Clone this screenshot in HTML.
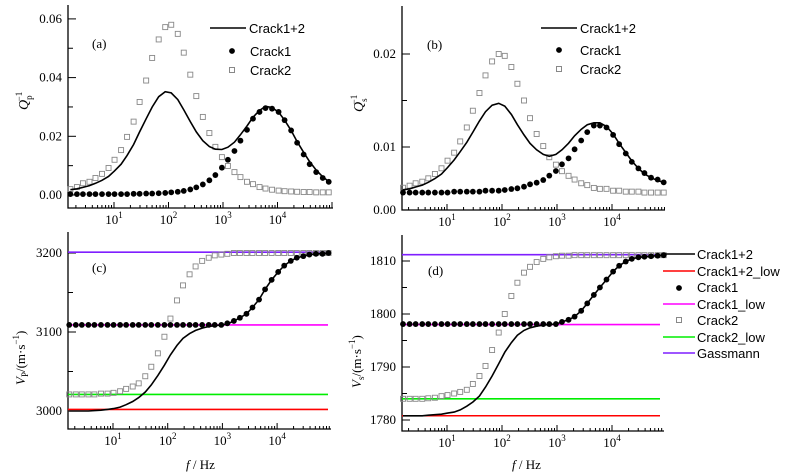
<!DOCTYPE html>
<html><head><meta charset="utf-8"><style>
html,body{margin:0;padding:0;background:#fff;}
svg{display:block;font-family:"Liberation Serif",serif;}
.sans{font-family:"Liberation Sans",sans-serif;}
</style></head><body>
<svg id="chart" width="789" height="475" viewBox="0 0 789 475"></svg>
<script>
const logF=[0.2,0.32,0.43,0.55,0.66,0.78,0.9,1.01,1.13,1.24,1.36,1.47,1.59,1.7,1.82,1.94,2.05,2.17,2.28,2.4,2.51,2.63,2.75,2.86,2.98,3.09,3.21,3.32,3.44,3.55,3.67,3.78,3.9,4.02,4.13,4.25,4.36,4.48,4.59,4.71,4.83,4.94];
const qpCrack12=[0.0018,0.0021,0.0026,0.0032,0.004,0.005,0.0063,0.0082,0.0105,0.0135,0.0172,0.0215,0.026,0.030,0.0335,0.0352,0.0348,0.0325,0.029,0.025,0.0215,0.0185,0.0165,0.0156,0.0155,0.0163,0.018,0.0205,0.0235,0.0265,0.0288,0.0302,0.0298,0.0282,0.0255,0.022,0.0182,0.0145,0.0113,0.0085,0.0062,0.0046];
const qpCrack1=[0.0003,0.0003,0.0003,0.0003,0.0003,0.0003,0.0003,0.0003,0.0003,0.0003,0.0004,0.0004,0.0005,0.0005,0.0006,0.0007,0.0009,0.0011,0.0014,0.0019,0.0026,0.0036,0.005,0.0068,0.0093,0.012,0.015,0.0185,0.0222,0.026,0.0283,0.0296,0.0294,0.0283,0.0255,0.022,0.0178,0.0138,0.0105,0.0078,0.0058,0.0045];
const qpCrack2=[0.002,0.0027,0.004,0.0045,0.0058,0.0072,0.0092,0.012,0.0153,0.0198,0.025,0.0317,0.039,0.0467,0.053,0.0572,0.058,0.0549,0.0485,0.041,0.0337,0.0266,0.0211,0.0164,0.0129,0.0099,0.0078,0.0061,0.0045,0.0037,0.0027,0.0022,0.0018,0.0015,0.0013,0.0012,0.0011,0.001,0.001,0.0009,0.0009,0.0009];
const qsCrack12=[0.0054,0.0055,0.0057,0.0059,0.0062,0.0066,0.0071,0.0078,0.0086,0.0095,0.0105,0.0116,0.0128,0.0138,0.0145,0.0147,0.0144,0.0135,0.0124,0.0113,0.0104,0.0097,0.0092,0.009,0.0092,0.0097,0.0104,0.0112,0.0119,0.0124,0.0126,0.0126,0.0122,0.0114,0.0104,0.0094,0.0085,0.0077,0.0071,0.0067,0.0064,0.0062];
const qsCrack1=[0.0051,0.0051,0.0051,0.0051,0.0051,0.0051,0.0051,0.0051,0.0052,0.0052,0.0052,0.0052,0.0052,0.0053,0.0053,0.0053,0.00538,0.00548,0.00556,0.00573,0.00599,0.00616,0.00645,0.00692,0.00742,0.00814,0.00878,0.00975,0.0107,0.0116,0.0123,0.0123,0.0121,0.0113,0.0103,0.0093,0.0084,0.0077,0.0072,0.0067,0.0065,0.0062];
const qsCrack2=[0.00562,0.00584,0.0061,0.00627,0.00663,0.0071,0.00771,0.00853,0.00939,0.0106,0.0121,0.0139,0.0158,0.0177,0.0192,0.02,0.0198,0.0186,0.0168,0.015,0.0131,0.0114,0.0101,0.0089,0.0081,0.0074,0.0069,0.0065,0.0061,0.0059,0.0056,0.0055,0.0055,0.0053,0.0053,0.0052,0.0052,0.0052,0.0051,0.0051,0.0051,0.0051];
const vpCrack12=[3000,3000,3000,3000,3000.5,3001,3002,3003,3005,3008,3012,3017,3024,3033,3045,3058,3071,3083,3092,3098,3102,3105,3107,3108,3109,3110,3114,3118,3123,3131,3141,3154,3166,3176,3184,3190,3194,3196,3198,3199,3199,3200];
const vpCrack1=[3109,3109,3109,3109,3109,3109,3109,3109,3109,3109,3109,3109,3109,3109,3109,3109,3109,3109,3109,3109,3109,3109,3109,3109,3109,3111,3114,3118,3123,3131,3141,3154,3166,3176,3184,3190,3194,3196,3198,3199,3199,3200];
const vpCrack2=[3021,3021,3021,3021,3021,3022,3022,3023,3025,3028,3031,3035,3044,3056,3073,3094,3117,3140,3159,3173,3183,3190,3194,3197,3198,3199,3200,3200,3200,3200,3200,3200,3200,3200,3200,3200,3200,3200,3200,3200,3200,3200];
const vpLevels=[3002,3109,3021,3201];
const vsCrack12=[1780.8,1780.8,1780.8,1780.8,1780.9,1781,1781.1,1781.3,1781.5,1781.9,1782.6,1783.4,1784.5,1786.2,1788.3,1790.6,1792.8,1794.6,1796.0,1796.9,1797.4,1797.7,1797.9,1798.0,1798.1,1798.5,1798.9,1799.5,1800.6,1802,1803.6,1805,1806.5,1808,1809.1,1809.9,1810.4,1810.7,1810.8,1810.9,1811.0,1811.1];
const vsCrack1=[1798.1,1798.1,1798.1,1798.1,1798.1,1798.1,1798.1,1798.1,1798.1,1798.1,1798.1,1798.1,1798.1,1798.1,1798.1,1798.1,1798.1,1798.1,1798.1,1798.1,1798.1,1798.1,1798.1,1798.1,1798.1,1798.5,1798.9,1799.5,1800.6,1802,1803.6,1805,1806.5,1808,1809.1,1809.9,1810.4,1810.7,1810.8,1810.9,1811.0,1811.1];
const vsCrack2=[1784.0,1784.0,1784.0,1784.0,1784.1,1784.2,1784.5,1784.7,1785.0,1785.3,1785.7,1786.8,1788.3,1790.2,1793.2,1796.5,1800,1803.4,1805.9,1807.8,1808.9,1809.8,1810.4,1810.7,1810.9,1811.0,1811.0,1811.1,1811.1,1811.1,1811.1,1811.1,1811.1,1811.1,1811.1,1811.1,1811.1,1811.1,1811.1,1811.1,1811.1,1811.1];
const vsLevels=[1780.8,1798.0,1784.0,1811.2];
const xTickExp=[1,2,3,4];
const qpTicks=["0.00","0.02","0.04","0.06"], qpTickVals=[0,0.02,0.04,0.06];
const qsTicks=["0.00","0.01","0.02"], qsTickVals=[0.00323,0.01,0.02];
const vpTicks=["3000","3100","3200"], vpTickVals=[3000,3100,3200];
const vsTicks=["1780","1790","1800","1810"], vsTickVals=[1780,1790,1800,1810];
const levelColors=["#ff0000","#ff00ff","#00ee00","#7f1fff"];
const levelNames=["crack12-low","crack1-low","crack2-low","gassmann"];

const NS="http://www.w3.org/2000/svg", svg=document.getElementById('chart');
function mk(tag,at,parent){const e=document.createElementNS(NS,tag);for(const k in at)e.setAttribute(k,at[k]);(parent||svg).appendChild(e);return e;}

function panel(p){
  const g=mk('g',{});
  
  
  const X=e=>p.x10+(e-1)*p.dec;
  const Y=v=>p.yA+(v-p.vA)*(p.yB-p.yA)/(p.vB-p.vA);
  const ax=mk('path',{d:`M${p.l},${p.t}V${p.b}H${p.r}`,stroke:'#000','stroke-width':1.3,fill:'none'},g);
  
  
  for(let d=0;d<=5;d++)for(let m=1;m<10;m++){const e=d+Math.log10(m);const x=X(e);if(x<p.l||x>p.r)continue;mk('line',{x1:x,x2:x,y1:p.b,y2:p.b-(m==1?6:3),stroke:'#000','stroke-width':1},g);}
  xTickExp.forEach(n=>{const t=mk('text',{x:X(n),y:p.b+16,'font-size':13,'text-anchor':'middle'},g);
    
    t.innerHTML=`10<tspan dy="-6" font-size="9">${n}</tspan>`;});
  p.tv.forEach((v,i)=>{const y=Y(v);mk('line',{x1:p.l,x2:p.l+8,y1:y,y2:y,stroke:'#000','stroke-width':1},g);
    const t=mk('text',{x:p.l-6,y:y+4,'font-size':13,'text-anchor':'end'},g);t.textContent=p.tl[i];
    });
  p.minor.forEach(v=>{const y=Y(v);mk('line',{x1:p.l,x2:p.l+5,y1:y,y2:y,stroke:'#000','stroke-width':1},g);});
  if(p.levels)p.levels.forEach((v,i)=>{const l=mk('line',{x1:p.l,x2:p.lvR,y1:Y(v),y2:Y(v),stroke:levelColors[i],'stroke-width':1.6},g);
    });
  p.sq.forEach((v,i)=>{const r=mk('rect',{x:X(logF[i])-2.5,y:Y(v)-2.5,width:5,height:5,fill:'none',stroke:'#888','stroke-width':0.9},g);
    });
  const pl=mk('polyline',{points:p.ln.map((v,i)=>X(logF[i]).toFixed(1)+','+Y(v).toFixed(1)).join(' '),fill:'none',stroke:'#000','stroke-width':1.6},g);
  
  p.dt.forEach((v,i)=>{const c=mk('circle',{cx:X(logF[i]),cy:Y(v),r:2.9,fill:'#000'},g);
    });
  const lab=mk('text',{x:p.lab[0],y:p.lab[1],'font-size':13},g);lab.textContent=p.labT;
  
}
panel({name:'panel-a',l:68,r:333,t:5,b:208,x10:114,dec:54.5,yA:195,vA:0,yB:136.3,vB:0.02,tv:qpTickVals,tl:qpTicks,minor:[0.01,0.03,0.05],sq:qpCrack2,ln:qpCrack12,dt:qpCrack1,lab:[92,48],labT:'(a)'});
panel({name:'panel-b',l:402,r:665,t:6,b:210,x10:447,dec:55,yA:147,vA:0.01,yB:54,vB:0.02,tv:qsTickVals,tl:qsTicks,minor:[0.015],sq:qsCrack2,ln:qsCrack12,dt:qsCrack1,lab:[427,49],labT:'(b)'});
panel({name:'panel-c',l:68,r:331,t:232,b:429,x10:113,dec:54.7,yA:332,vA:3100,yB:253,vB:3200,tv:vpTickVals,tl:vpTicks,minor:[3050,3150],sq:vpCrack2,ln:vpCrack12,dt:vpCrack1,levels:vpLevels,lvR:328,lab:[92,272],labT:'(c)'});
panel({name:'panel-d',l:402,r:664,t:235,b:431,x10:447,dec:55,yA:261,vA:1810,yB:314,vB:1800,tv:vsTickVals,tl:vsTicks,minor:[1785,1795,1805],sq:vsCrack2,ln:vsCrack12,dt:vsCrack1,levels:vsLevels,lvR:660,lab:[428,275],labT:'(d)'});
</script>
<svg width="789" height="475" style="position:absolute;left:0;top:0">
  <text transform="translate(28,110) rotate(-90)" font-size="14" font-style="italic">Q<tspan dy="4" font-size="9" font-style="normal">p</tspan><tspan dy="-10" dx="-6" font-size="9" font-style="normal">−1</tspan></text>
  <text transform="translate(363,112) rotate(-90)" font-size="14" font-style="italic">Q<tspan dy="4" font-size="9" font-style="normal">s</tspan><tspan dy="-10" dx="-6" font-size="9" font-style="normal">−1</tspan></text>
  <text transform="translate(25,385) rotate(-90)" font-size="13"><tspan font-style="italic">V</tspan><tspan dy="3" font-size="9">P</tspan><tspan dy="-3">/(m·s</tspan><tspan dy="-6" font-size="9">−1</tspan><tspan dy="6">)</tspan></text>
  <text transform="translate(361,388) rotate(-90)" font-size="13"><tspan font-style="italic">V</tspan><tspan dy="3" font-size="9">s</tspan><tspan dy="-3">/(m·s</tspan><tspan dy="-6" font-size="9">−1</tspan><tspan dy="6">)</tspan></text>
  <text x="186" y="469" font-size="13"><tspan font-style="italic">f</tspan> / Hz</text>
  <text x="512" y="469" font-size="13"><tspan font-style="italic">f</tspan> / Hz</text>
  <g class="sans" font-size="13">
    <line x1="210" x2="246" y1="28" y2="28" stroke="#000" stroke-width="1.6"/><text x="249" y="33">Crack1+2</text>
    <circle cx="232" cy="51" r="2.9"/><text x="250" y="56">Crack1</text>
    <rect x="229.5" y="67.5" width="5" height="5" fill="none" stroke="#888"/><text x="250" y="75">Crack2</text>
  </g>
  <g class="sans" font-size="13">
    <line x1="541" x2="577" y1="28" y2="28" stroke="#000" stroke-width="1.6"/><text x="580" y="33">Crack1+2</text>
    <circle cx="559" cy="50" r="2.9"/><text x="580" y="55">Crack1</text>
    <rect x="556.5" y="66.5" width="5" height="5" fill="none" stroke="#888"/><text x="580" y="74">Crack2</text>
  </g>
  <g class="sans" font-size="13">
    <line x1="663" x2="695" y1="254" y2="254" stroke="#000" stroke-width="1.6"/><text x="697" y="259">Crack1+2</text>
    <line x1="663" x2="695" y1="271" y2="271" stroke="#ff0000" stroke-width="1.6"/><text x="697" y="276">Crack1+2_low</text>
    <circle cx="679" cy="288" r="2.9"/><text x="697" y="292">Crack1</text>
    <line x1="663" x2="695" y1="304" y2="304" stroke="#ff00ff" stroke-width="1.6"/><text x="697" y="309">Crack1_low</text>
    <rect x="676.5" y="317.5" width="5" height="5" fill="none" stroke="#888"/><text x="697" y="325">Crack2</text>
    <line x1="663" x2="695" y1="337" y2="337" stroke="#00ee00" stroke-width="1.6"/><text x="697" y="342">Crack2_low</text>
    <line x1="663" x2="695" y1="353" y2="353" stroke="#7f1fff" stroke-width="1.6"/><text x="697" y="358">Gassmann</text>
  </g>
</svg>
</body></html>
